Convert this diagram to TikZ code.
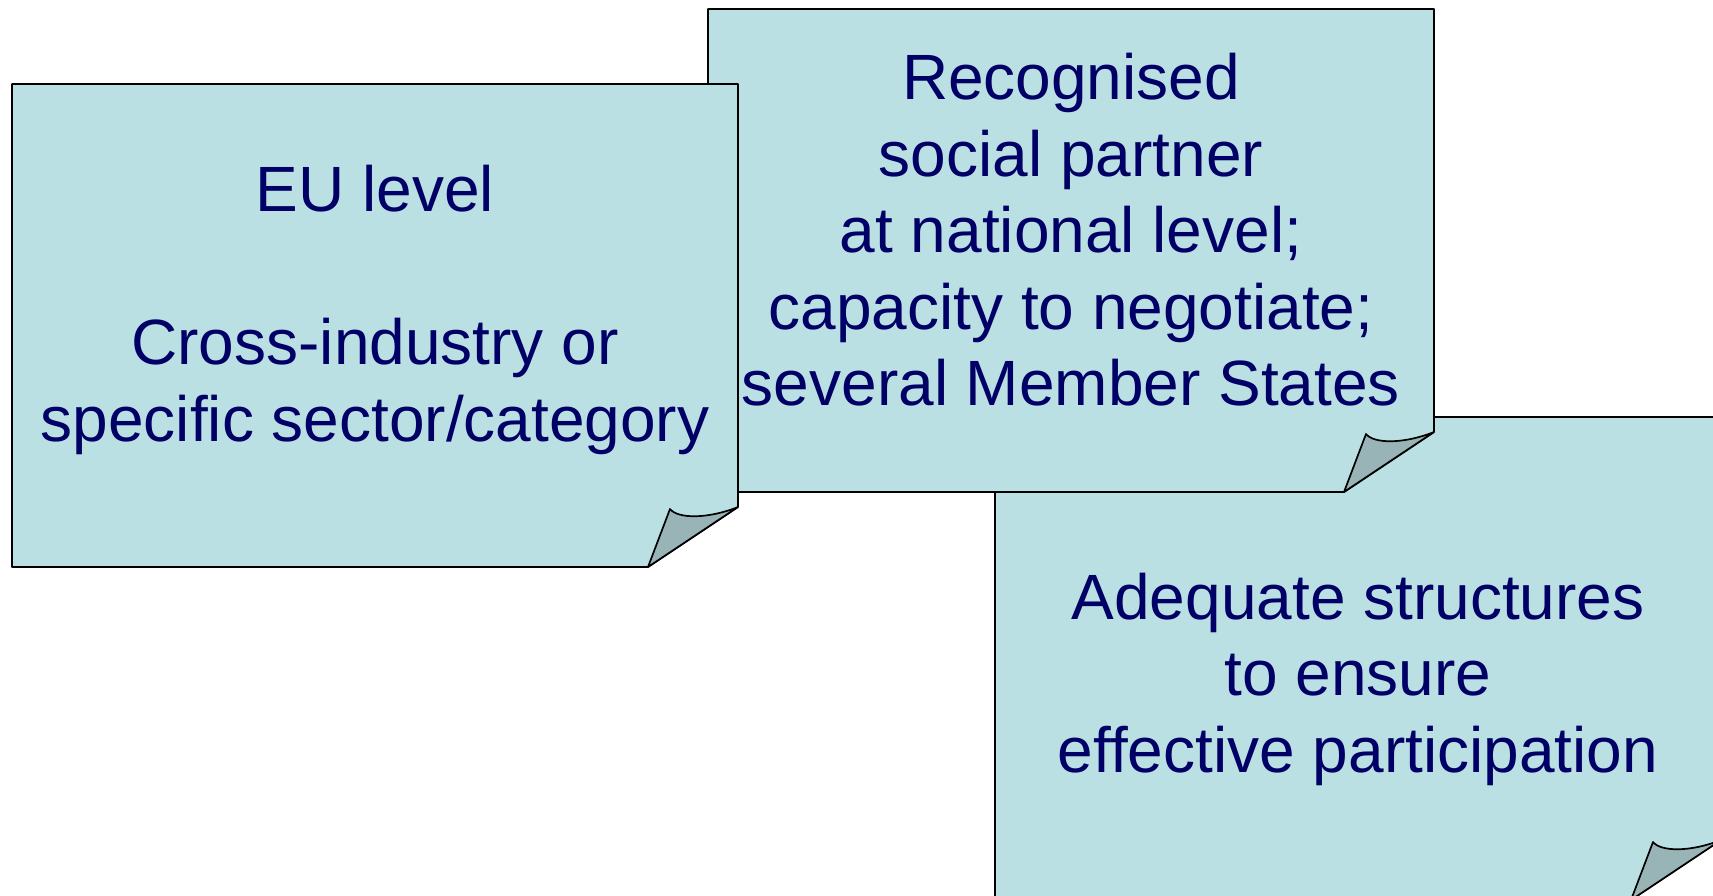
\documentclass[tikz,border=0pt]{standalone}
\usepackage{fontspec}
\setmainfont{Liberation Sans}
\definecolor{notefill}{HTML}{BBE0E3}
\definecolor{flapfill}{HTML}{99B4B7}
\definecolor{navy}{HTML}{000066}
\tikzstyle{note}=[draw=black, fill=notefill, line width=1.7pt, line join=round]
\tikzstyle{flap}=[draw=black, fill=flapfill, line width=1.7pt, line join=round]
\tikzstyle{txt}=[text=navy, align=center, font=\fontsize{64}{76.5}\selectfont]

\begin{document}
\begin{tikzpicture}[x=1pt,y=-1pt]
\useasboundingbox (0,0) rectangle (1713,896);
% lower right note
\draw[note] (995,417) -- (1721,417) -- (1721,840) -- (1631,900) -- (995,900) -- cycle;
\draw[flap] (1721,840) -- (1631,900) -- (1653,842) .. controls (1661,852) and (1691,852) .. (1721,840);
% upper middle note
\draw[note] (708,9) -- (1434,9) -- (1434,432) -- (1344,492) -- (708,492) -- cycle;
\draw[flap] (1434,432) -- (1344,492) -- (1366,434) .. controls (1374,444) and (1404,444) .. (1434,432);
% left note
\draw[note] (12,84) -- (738,84) -- (738,507) -- (648,567) -- (12,567) -- cycle;
\draw[flap] (738,507) -- (648,567) -- (670,509) .. controls (678,519) and (708,519) .. (738,507);
% texts
\node[txt] (eu) at (375,310) {EU level\\[76.5pt]Cross-industry or\\specific sector/category};
\node[txt] (partner) at (1071,230) {Recognised\\social partner\\at national level;\\capacity to negotiate;\\several Member States};
\node[txt] (struct) at (1358,679) {Adequate structures\\to ensure\\effective participation};
\end{tikzpicture}
\end{document}
